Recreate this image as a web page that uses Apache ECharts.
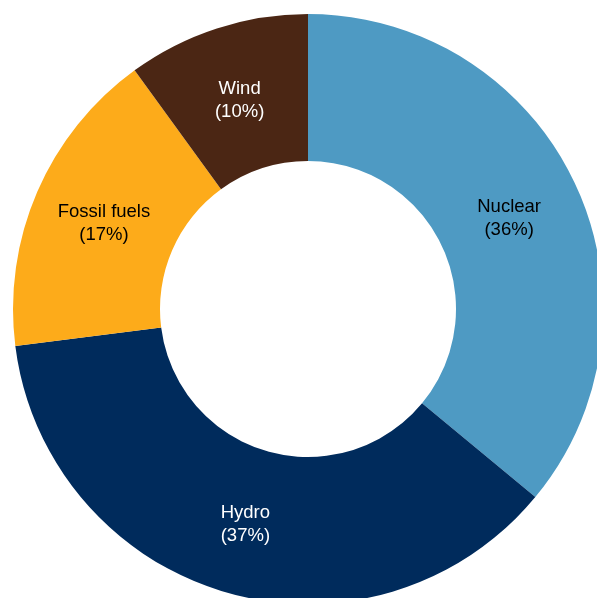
<!DOCTYPE html>
<html>
<head>
<meta charset="utf-8">
<script src="https://cdn.jsdelivr.net/npm/echarts@6/dist/echarts.min.js"></script>
<style>
  html, body { margin: 0; padding: 0; background: #ffffff; }
  #chart { width: 597px; height: 598px; }
</style>
</head>
<body>
<div id="chart"></div>
<script>
// Electricity generation mix by source (share of total, %)
const sources = ['Nuclear', 'Hydro', 'Fossil fuels', 'Wind'];
const shares = [36, 37, 17, 10];
const sliceColors = ['#4E9AC3', '#002B5C', '#FDAB1A', '#4B2614'];
const labelColors = ['#000000', '#ffffff', '#000000', '#ffffff'];

const chart = echarts.init(document.getElementById('chart'), null, { renderer: 'canvas' });

// Labels sit a little below the ring's mid-radius, except on the bottom slice
const labelNudge = { Nuclear: [-2, 5], Hydro: [0, 0], 'Fossil fuels': [2, 4], Wind: [1, 5] };

chart.setOption({
  backgroundColor: '#ffffff',
  animation: false,
  series: [{
    type: 'pie',
    center: [308, 309],
    radius: [148, 295],
    startAngle: 90,
    clockwise: true,
    avoidLabelOverlap: false,
    itemStyle: { borderWidth: 0 },
    label: {
      show: true,
      position: 'inside',
      fontFamily: 'Liberation Sans, Arial, sans-serif',
      fontSize: 18.5,
      lineHeight: 23,
      align: 'center',
      formatter: p => p.name + '\n(' + p.value + '%)'
    },
    labelLine: { show: false },
    emphasis: { disabled: true },
    data: sources.map((name, i) => ({
      name,
      value: shares[i],
      itemStyle: { color: sliceColors[i] },
      label: { color: labelColors[i], offset: labelNudge[name] }
    }))
  }]
});
</script>
</body>
</html>
